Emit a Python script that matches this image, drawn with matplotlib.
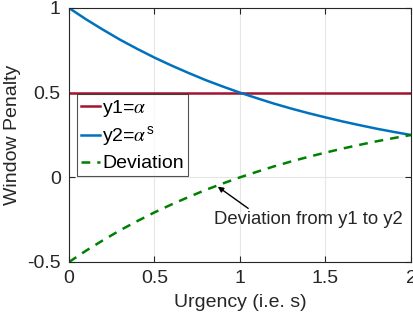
import matplotlib
matplotlib.use("Agg")
import matplotlib.pyplot as plt

plt.rcParams['font.family'] = ['Liberation Sans', 'DejaVu Sans']
plt.rcParams['mathtext.fontset'] = 'stix'

# Values
s = [0.0, 0.1, 0.2, 0.3, 0.4, 0.5, 0.6, 0.7, 0.8, 0.9, 1.0,
     1.1, 1.2, 1.3, 1.4, 1.5, 1.6, 1.7, 1.8, 1.9, 2.0]
y1 = [0.5] * len(s)
y2 = [1.0, 0.933, 0.871, 0.812, 0.758, 0.707, 0.660, 0.616, 0.574, 0.536, 0.5,
      0.467, 0.435, 0.406, 0.379, 0.354, 0.330, 0.308, 0.287, 0.268, 0.25]
deviation = [-0.5, -0.433, -0.371, -0.312, -0.258, -0.207, -0.160, -0.116, -0.074, -0.036, 0.0,
             0.033, 0.065, 0.094, 0.121, 0.146, 0.170, 0.192, 0.213, 0.232, 0.25]

xticks = [0, 0.5, 1, 1.5, 2]
xticklabels = ['0', '0.5', '1', '1.5', '2']
yticks = [-0.5, 0, 0.5, 1]
yticklabels = ['-0.5', '0', '0.5', '1']

fig = plt.figure(figsize=(4.14, 3.2), dpi=100)
ax = fig.add_axes([69/414, 58/320, 342/414, 254/320])

ax.plot(s, y1, color='#A2142F', lw=1.8, label=r'y1=$\alpha$')
ax.plot(s, y2, color='#0072BD', lw=1.8, label=r'y2=$\alpha^{\mathregular{s}}$')
ax.plot(s, deviation, color='#008000', lw=1.8, ls=(0, (3.5, 2.8)), label='Deviation')

ax.set_xlim(0, 2)
ax.set_ylim(-0.5, 1)
ax.set_xticks(xticks)
ax.set_xticklabels(xticklabels)
ax.set_yticks(yticks)
ax.set_yticklabels(yticklabels)
ax.grid(True, color='#e6e6e6', lw=0.8)
ax.set_axisbelow(True)
ax.tick_params(direction='in', length=4, width=0.8, labelsize=14, colors='#262626',
               top=True, right=True)
ax.tick_params(axis='x', pad=6)
ax.tick_params(axis='y', pad=6)
for sp in ax.spines.values():
    sp.set_color('#262626')
    sp.set_linewidth(0.8)

ax.set_xlabel('Urgency (i.e. s)', fontsize=14, color='#262626', labelpad=5)
ax.set_ylabel('Window Penalty', fontsize=14, color='#262626', labelpad=4)

leg = ax.legend(loc='upper left', bbox_to_anchor=(8/342, 168/254), fontsize=14,
                frameon=True, fancybox=False, edgecolor='#262626',
                handlelength=1.0, handletextpad=0.1, borderpad=0.2,
                labelspacing=0.3, borderaxespad=0)
leg.get_frame().set_linewidth(0.8)

ax.annotate('Deviation from y1 to y2', xy=(0.87, -0.055), xytext=(0.85, -0.25),
            fontsize=13.3, color='#262626', va='center', ha='left',
            arrowprops=dict(arrowstyle='-|>', color='black', lw=1.0,
                            shrinkA=0, shrinkB=0, mutation_scale=8,
                            relpos=(0.2, 1.0)))

fig.savefig('out.png', dpi=100)
